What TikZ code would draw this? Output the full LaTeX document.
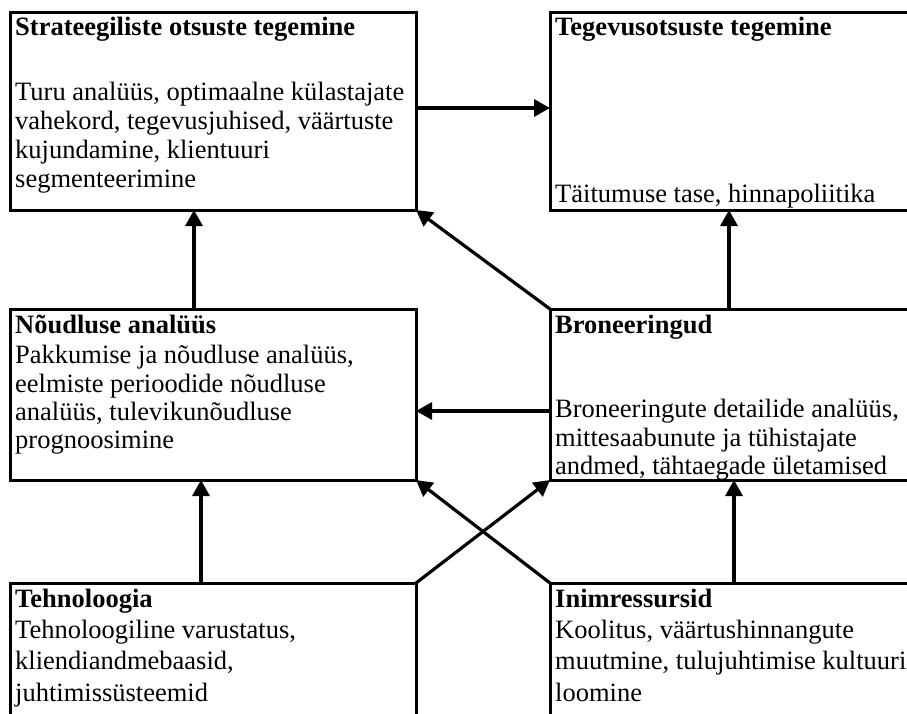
\documentclass[tikz,border=0pt]{standalone}
\usepackage{fontspec}
\setmainfont{Liberation Serif}
\usetikzlibrary{arrows.meta}
\tikzset{
  box/.style={draw, line width=3pt, rectangle, inner sep=0pt, outer sep=0pt, anchor=north west},
  txt/.style={anchor=base west, inner sep=0pt, font=\fontsize{26.5pt}{30pt}\selectfont},
  hd/.style={txt, font=\fontsize{26.5pt}{30pt}\selectfont\bfseries},
  arr/.style={line width=3.2pt, -{Triangle[length=16pt,width=17pt]}}
}
\begin{document}
\begin{tikzpicture}[x=1pt,y=-1pt]
\useasboundingbox (0,0) rectangle (907,713);
\fill[white] (0,0) rectangle (907,713);
\clip (0,0) rectangle (907,713);
% boxes
\node[box, minimum width=406pt, minimum height=198pt] (b1) at (10,12) {};
\node[box, minimum width=380pt, minimum height=198pt] (b2) at (550,12) {};
\node[box, minimum width=406pt, minimum height=171pt] (b3) at (10,309) {};
\node[box, minimum width=380pt, minimum height=171pt] (b4) at (550,309) {};
\node[box, minimum width=406pt, minimum height=160pt] (b5) at (10,583) {};
\node[box, minimum width=380pt, minimum height=160pt] (b6) at (550,583) {};
% texts box 1
\node[hd]  (t1h) at ([xshift=5pt,yshift=-23pt]b1.north west) {Strateegiliste otsuste tegemine};
\node[txt] (t11) at ([xshift=5pt,yshift=-88pt]b1.north west) {Turu analüüs, optimaalne külastajate};
\node[txt] (t12) at ([xshift=5pt,yshift=-117pt]b1.north west) {vahekord, tegevusjuhised, väärtuste};
\node[txt] (t13) at ([xshift=5pt,yshift=-146pt]b1.north west) {kujundamine, klientuuri};
\node[txt] (t14) at ([xshift=5pt,yshift=-175pt]b1.north west) {segmenteerimine};
% box 2
\node[hd]  (t2h) at ([xshift=5pt,yshift=-23pt]b2.north west) {Tegevusotsuste tegemine};
\node[txt] (t21) at ([xshift=5pt,yshift=-190pt]b2.north west) {Täitumuse tase, hinnapoliitika};
% box 3
\node[hd]  (t3h) at ([xshift=5pt,yshift=-24pt]b3.north west) {Nõudluse analüüs};
\node[txt] (t31) at ([xshift=5pt,yshift=-54pt]b3.north west) {Pakkumise ja nõudluse analüüs,};
\node[txt] (t32) at ([xshift=5pt,yshift=-83pt]b3.north west) {eelmiste perioodide nõudluse};
\node[txt] (t33) at ([xshift=5pt,yshift=-111pt]b3.north west) {analüüs, tulevikunõudluse};
\node[txt] (t34) at ([xshift=5pt,yshift=-139pt]b3.north west) {prognoosimine};
% box 4
\node[hd]  (t4h) at ([xshift=5pt,yshift=-24pt]b4.north west) {Broneeringud};
\node[txt] (t41) at ([xshift=5pt,yshift=-108pt]b4.north west) {Broneeringute detailide analüüs,};
\node[txt] (t42) at ([xshift=5pt,yshift=-137pt]b4.north west) {mittesaabunute ja tühistajate};
\node[txt] (t43) at ([xshift=5pt,yshift=-165pt]b4.north west) {andmed, tähtaegade ületamised};
% box 5
\node[hd]  (t5h) at ([xshift=5pt,yshift=-24pt]b5.north west) {Tehnoloogia};
\node[txt] (t51) at ([xshift=5pt,yshift=-55pt]b5.north west) {Tehnoloogiline varustatus,};
\node[txt] (t52) at ([xshift=5pt,yshift=-86pt]b5.north west) {kliendiandmebaasid,};
\node[txt] (t53) at ([xshift=5pt,yshift=-118pt]b5.north west) {juhtimissüsteemid};
% box 6
\node[hd]  (t6h) at ([xshift=5pt,yshift=-24pt]b6.north west) {Inimressursid};
\node[txt] (t61) at ([xshift=5pt,yshift=-55pt]b6.north west) {Koolitus, väärtushinnangute};
\node[txt] (t62) at ([xshift=5pt,yshift=-86pt]b6.north west) {muutmine, tulujuhtimise kultuuri};
\node[txt] (t63) at ([xshift=5pt,yshift=-118pt]b6.north west) {loomine};
% connectors
\draw[arr] ([yshift=3pt]b1.east) -- ([yshift=3pt]b2.west);
\draw[arr] ([yshift=-16.5pt]b4.west) -- ([yshift=-16.5pt]b3.east);
\draw[arr] ([xshift=184pt]b3.north west) -- ([xshift=184pt]b1.south west);
\draw[arr] ([xshift=179pt]b4.north west) -- ([xshift=179pt]b2.south west);
\draw[arr] (b4.north west) -- (b1.south east);
\draw[arr] ([xshift=191pt]b5.north west) -- ([xshift=191pt]b3.south west);
\draw[arr] ([xshift=184pt]b6.north west) -- ([xshift=184pt]b4.south west);
\draw[arr] (b5.north east) -- (b4.south west);
\draw[arr] (b6.north west) -- (b3.south east);
\end{tikzpicture}
\end{document}
